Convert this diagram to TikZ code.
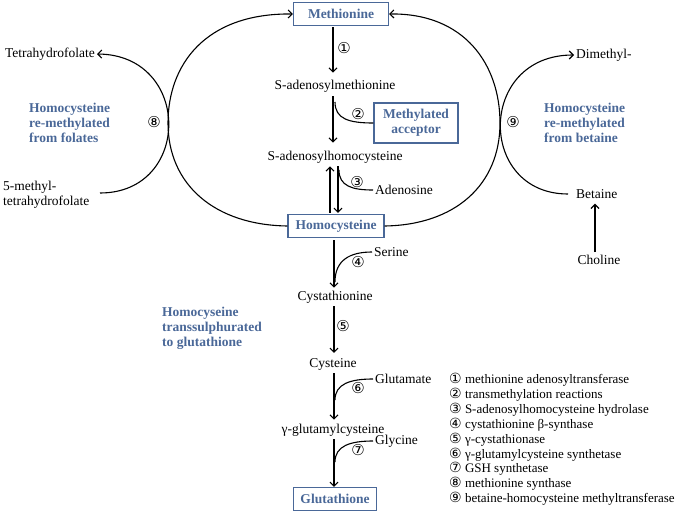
\documentclass[tikz,border=0pt]{standalone}
\usepackage{fontspec}
\setmainfont{Liberation Serif}
\newfontfamily\circfont{DejaVu Sans}
\usetikzlibrary{arrows.meta}

\definecolor{hcyblue}{RGB}{74,104,152}

\newcommand{\keynum}[1]{{\circfont\fontsize{14}{14}\selectfont #1}}

\tikzset{
    metab/.style={inner sep=2pt, font=\fontsize{13.5}{15.5}\selectfont},
    keybox/.style={draw=hcyblue, line width=1.2pt, text=hcyblue, align=center,
        font=\fontsize{13.5}{15.5}\selectfont\bfseries, inner xsep=7pt, minimum height=23pt},
    pathnote/.style={text=hcyblue, align=left, inner sep=0pt,
        font=\fontsize{13.5}{15}\selectfont\bfseries},
    enz/.style={inner sep=0pt, font=\circfont\fontsize{15}{15}\selectfont},
    flow/.style={-{Straight Barb[length=4pt,width=8pt]}, line width=1.1pt},
    side/.style={line width=1.1pt}
}

\begin{document}
\begin{tikzpicture}[x=1pt, y=-1pt]
        \useasboundingbox (0,0) rectangle (685,513);

        % Methionine cycle
        \node[keybox, minimum width=95pt] (met) at (341,14) {Methionine};
        \node[metab] (sam) at (335,86) {S-adenosylmethionine};
        \node[keybox, inner xsep=9pt, minimum height=40pt] (macc) at (416,123) {Methylated\\acceptor};
        \node[metab] (sah) at (335,157) {S-adenosylhomocysteine};
        \node[metab, anchor=west] (ado) at (373,190) {Adenosine};
        \node[keybox, minimum width=96pt] (hcy) at (336,226) {Homocysteine};

        % Transsulphuration
        \node[metab, anchor=west] (ser) at (372,252) {Serine};
        \node[metab] (cth) at (335,297) {Cystathionine};
        \node[metab] (cys) at (333,364) {Cysteine};
        \node[metab, anchor=west] (glu) at (373,379) {Glutamate};
        \node[metab] (gglu) at (333,430) {γ-glutamylcysteine};
        \node[metab, anchor=west] (gly) at (373,441) {Glycine};
        \node[keybox] (gsh) at (335,499) {Glutathione};

        % Folate and betaine side
        \node[metab, anchor=east] (thf) at (97,54) {Tetrahydrofolate};
        \node[metab, anchor=west, align=left] (mthf) at (1,195) {5-methyl-\\tetrahydrofolate};
        \coordinate (mthfend) at (100,193);
        \node[metab, anchor=west] (dim) at (574,55) {Dimethyl-};
        \node[metab, anchor=west] (bet) at (574,194) {Betaine};
        \node[metab] (cho) at (599,260) {Choline};

        % Pathway notes
        \node[pathnote, anchor=west] (folnote) at (29,123) {Homocysteine\\re-methylated\\from folates};
        \node[pathnote, anchor=west] (betnote) at (544,123) {Homocysteine\\re-methylated\\from betaine};
        \node[pathnote, anchor=west] (gshnote) at (162,328) {Homocyseine\\transsulphurated\\to glutathione};

        % Main arrows
        \draw[flow, shorten <=1pt, shorten >=5pt] (met.south -| 333,0) -- (sam.north -| 333,0);
        \draw[flow, shorten <=2pt, shorten >=6pt] (sam.south -| 333,0) -- (sah.north -| 333,0);
        \draw[flow, shorten <=1pt, shorten >=1pt] (hcy.north -| 330,0) -- (sah.south -| 330,0);
        \draw[flow, shorten <=1pt, shorten >=1pt] (sah.south -| 338,0) -- (hcy.north -| 338,0);
        \draw[flow, shorten <=2pt, shorten >=1pt] (hcy.south -| 334,0) -- (cth.north -| 334,0);
        \draw[flow, shorten <=1pt, shorten >=3pt] (cth.south -| 334,0) -- (cys.north -| 334,0);
        \draw[flow, shorten <=1pt, shorten >=2pt] (cys.south -| 334,0) -- (gglu.north -| 334,0);
        \draw[flow, shorten <=1pt] (gglu.south -| 334,0) -- (gsh.north -| 334,0);

        % Side reactions
        \coordinate (maccj) at (335,102);
        \coordinate (adoj) at (339,170);
        \coordinate (serj) at (335,282);
        \coordinate (gluj) at (335,400);
        \coordinate (glyj) at (335,462);
        \draw[side] (maccj) .. controls (335,119) and (349,123) .. (macc.west);
        \draw[side] (adoj) .. controls (339,186) and (352,190) .. (ado.west);
        \draw[side] (ser.west) .. controls (350,252) and (335,260) .. (serj);
        \draw[side] (glu.west) .. controls (350,379) and (335,384) .. (gluj);
        \draw[side] (gly.west) .. controls (350,441) and (335,446) .. (glyj);

        % Re-methylation loops
        \draw[flow] (hcy.west) .. controls (215,225) and (168,185) .. (168,123)
            .. controls (168,65) and (205,13) .. (met.west);
        \draw[flow] (hcy.east) .. controls (455,225) and (500,185) .. (500,123)
            .. controls (500,65) and (465,13) .. (met.east);
        \draw[flow] (mthfend) .. controls (192,193) and (192,55) .. (thf.east);
        \draw[flow, shorten <=6pt] (bet.west) .. controls (477,194) and (477,55) .. (dim.west);
        \draw[flow, shorten <=1pt, shorten >=3pt] (cho.north -| 595,0) -- (bet.south -| 595,0);

        % Enzyme numbers
        \node[enz] (e1) at (344,48) {①};
        \node[enz] (e2) at (358,114) {②};
        \node[enz] (e3) at (357,182) {③};
        \node[enz] (e4) at (358,262) {④};
        \node[enz] (e5) at (343,326) {⑤};
        \node[enz] (e6) at (358,388) {⑥};
        \node[enz] (e7) at (358,450) {⑦};
        \node[enz] (e8) at (154,122) {⑧};
        \node[enz] (e9) at (513,122) {⑨};

        % Key
        \node[align=left, anchor=north west, inner sep=0pt, font=\fontsize{13}{14.9}\selectfont] (key) at (449,373) {%
            \keynum{①} methionine adenosyltransferase\\
            \keynum{②} transmethylation reactions\\
            \keynum{③} S-adenosylhomocysteine hydrolase\\
            \keynum{④} cystathionine β-synthase\\
            \keynum{⑤} γ-cystathionase\\
            \keynum{⑥} γ-glutamylcysteine synthetase\\
            \keynum{⑦} GSH synthetase\\
            \keynum{⑧} methionine synthase\\
            \keynum{⑨} betaine-homocysteine methyltransferase};

    \end{tikzpicture}
\end{document}
